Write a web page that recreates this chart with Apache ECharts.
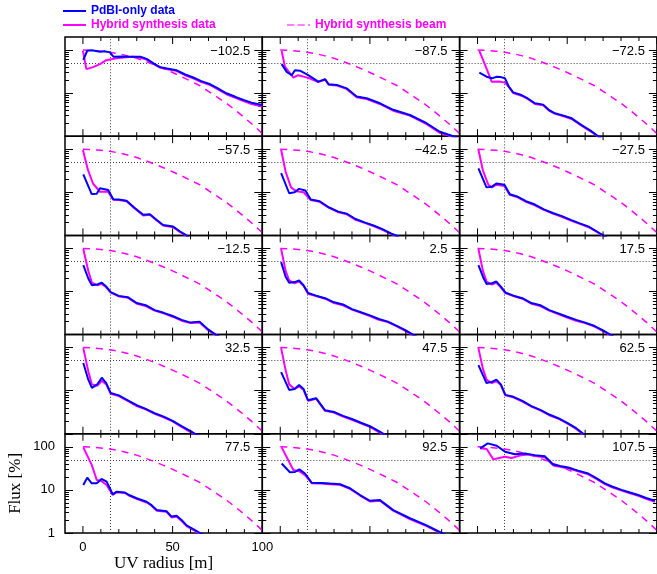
<!DOCTYPE html>
<html><head><meta charset="utf-8">
<script src="https://cdn.jsdelivr.net/npm/echarts@6/dist/echarts.min.js"></script>
<style>html,body{margin:0;padding:0;background:#fff}#c{width:657px;height:574px}</style>
</head><body><div id="c"></div>
<script>
// ---------- data ----------
const panelLabels = ['\u2212102.5','\u221287.5','\u221272.5','\u221257.5','\u221242.5','\u221227.5','\u221212.5','2.5','17.5','32.5','47.5','62.5','77.5','92.5','107.5'];
const beamUV   = [0,5,10,15,20,25,30,35,40,45,50,55,60,65,70,75,80,85,90,95,100];
const beamFlux = [100,98,94,89,82,73,64,54,45,37,30,24,19,15,11,8,5.8,4.0,2.7,1.8,1.15];
const xMinorTicks = [10,20,30,40,60,70,80,90];
const xMajorTicks = [0,50,100];
const yMinorTicks = [2,3,4,5,6,7,8,9,20,30,40,50,60,70,80,90];
const yMajorTicks = [1,10,100];
const refFlux = 50;
const refUV = 15;

// PdBI-only data [uv, flux] per panel
const pdbi_m102 = [[0.2,59],[2.4,96],[5,99],[9.5,91],[12,93],[15,88],[17,70],[22,71],[26,70],[32,70],[35.5,62],[40,47],[43,40],[47,37],[52,34],[57,27],[61.5,23],[66,19],[71,16],[75,13],[80,9.9],[85,8.2],[89.5,6.9],[94,6],[100,5.3]];
const pdbi_m87 = [[0.8,47],[3.6,31],[6.4,26],[8.2,34],[11,33],[15.6,26],[21.2,18.4],[25,21],[27,16],[31.6,15.5],[37,12.9],[42.6,8.3],[48.2,7.6],[55.6,5.8],[63,4.1],[72.3,3.1],[81.6,2.0],[89,1.27],[96.5,1.0],[99,0.9]];
const pdbi_m72 = [[1,30],[5,24],[8,22],[10.7,24],[13,23.5],[15.3,22],[17.5,14],[19.9,10.4],[24.5,9],[28,7.5],[32,5.8],[36.6,5.4],[40,4],[43.2,3.4],[48,3],[52.5,2.6],[58,1.8],[63,1.35],[67.3,1.0],[69,0.9]];
const pdbi_m57 = [[0.2,26],[4.9,9.1],[7.7,9.3],[9.5,12.4],[14.1,11.3],[16.9,6.9],[20,6.8],[24.3,6.4],[28.9,4.3],[33.6,3.0],[37.3,3.1],[41,2.3],[44.7,1.74],[50.3,1.6],[54,1.25],[57.7,1.0],[59,0.9]];
const pdbi_m42 = [[0.5,28],[5,9.5],[8,10],[10.5,12],[14,11],[17,6.8],[22,6.2],[27,4.5],[32,3.6],[37,3.2],[42,2.4],[47,2.0],[52,1.7],[57,1.4],[62,1.1],[66,0.95]];
const pdbi_m27 = [[0.5,36],[5,13],[8,13.5],[10.5,16],[15,15],[18,9],[22,8],[27,6.2],[32,5.2],[37,4],[42,3.3],[47,2.8],[52,2.3],[57,1.9],[62,1.6],[67,1.2],[70,1.0],[72,0.9]];
const pdbi_m12 = [[0.2,41],[3,20],[5,14],[8,14.5],[10.5,16],[13,13],[15.5,9.7],[20,7.9],[25,7.4],[30,5.4],[35,4.8],[40,3.7],[45,3.2],[50,2.7],[55,2.2],[60,1.9],[65,2.0],[70,1.3],[74,1.0],[76,0.9]];
const pdbi_p02 = [[0.5,48],[3,22],[5,16],[8,16.5],[10.5,18],[13,14],[15.5,9.2],[20,8],[25,7],[30,5.6],[35,5],[40,3.9],[45,3.3],[50,2.8],[55,2.3],[60,2],[65,1.6],[70,1.25],[74,1.0],[76,0.9]];
const pdbi_p17 = [[0.5,41],[3,22],[5,15],[8,15.5],[10.5,17],[13,13],[15.5,9.5],[20,8],[25,7],[30,5.4],[35,4.8],[40,3.7],[45,3.1],[50,2.6],[55,2.2],[60,1.9],[65,1.6],[70,1.25],[74,1.0],[76,0.9]];
const pdbi_p32 = [[0.2,44],[3,18],[5,11.6],[8,14],[10.5,20],[13,15],[15.5,8.8],[20,7.8],[25,6],[30,4.6],[35,3.8],[40,3],[45,2.5],[50,2],[55,1.5],[60,1.15],[63,0.97],[65,0.9]];
const pdbi_p47 = [[0.5,27],[5,10.4],[8,11],[10.5,13.5],[13,11],[15.5,6],[20,6.7],[25,3.5],[30,3.2],[35,2.6],[40,2.2],[45,1.8],[50,1.5],[55,1.15],[58,0.97],[60,0.9]];
const pdbi_p62 = [[0.5,39],[5,15],[8,16],[10.5,18],[13,14],[15.5,8],[20,7.2],[25,5.8],[30,4.4],[35,3.6],[40,2.8],[45,2.3],[50,1.8],[55,1.35],[59,1.0],[61,0.9]];
const pdbi_p77 = [[0.2,13],[2.4,19.2],[4.9,14.2],[7.7,14.2],[10.4,17.9],[13.2,15.5],[16.6,7.9],[18.8,9.1],[23.4,8.7],[26,7.5],[29.9,6.4],[35.5,5.3],[38,4.5],[41.1,3.4],[46.6,3.2],[49.4,2.4],[52.2,2.5],[55,2],[57.8,1.5],[62,1.2],[65.3,1.0],[67,0.9]];
const pdbi_p92 = [[0.8,41],[5.4,25.6],[8.2,26],[10.6,30],[13.8,24],[17.5,14.7],[23,14.5],[27.7,14],[33.3,13.5],[38.9,10.9],[44.5,7.6],[50,5.6],[55.6,5.8],[63,3.4],[72.3,2.2],[81.6,1.5],[90,1.0],[92,0.9]];
const pdbi_p107 = [[1.4,92],[5.7,120],[10.7,106],[15.3,77],[20.9,67],[26.4,70],[32,64],[37.5,60],[42.2,39],[46,36],[50.6,33],[56,28],[61.7,24],[66,19],[71,14.2],[75,12],[80.3,10],[85,8.7],[89.6,7.6],[94,6.5],[98.9,5.6]];

// Hybrid synthesis data [uv, flux] per panel
const hyb_m102 = [[0,95],[1.9,36],[5.6,40],[9.5,47],[13,58],[18.7,64],[24,68],[28,70],[32,66],[35.5,60],[40,46],[43,39],[47,35.5],[52,33],[57,26],[61.5,22],[66,18],[71,15.3],[75,12.4],[80,9.4],[85,7.8],[89.5,6.5],[94,5.6],[100,4.9]];
const hyb_m87 = [[0.8,95],[2.6,41],[7.3,23],[10,26],[15.6,22.5],[21.2,18],[25,20.5],[27,15.6],[31.6,15],[37,12.5],[42.6,8],[48.2,7.3],[55.6,5.6],[63,3.9],[72.3,3],[81.6,1.9],[89,1.2],[96.5,0.95],[99,0.85]];
const hyb_m72 = [[1,95],[4.2,45],[7.9,18.4],[12,18.5],[15.3,17.5],[18,13],[19.9,10],[24.5,8.7],[28,7.3],[32,5.6],[36.6,5.2],[40,3.9],[43.2,3.3],[48,2.9],[52.5,2.5],[58,1.75],[63,1.3],[67.3,0.97],[69,0.88]];
const hyb_m57 = [[0,96],[2.8,33],[5.6,16],[9.5,10.3],[14,10.3],[16.9,6.7],[20,6.6],[24.3,6.2],[28.9,4.2],[33.6,2.9],[37.3,3.0],[41,2.25],[44.7,1.7],[50.3,1.55],[54,1.2],[57.7,0.97],[59,0.88]];
const hyb_m42 = [[0.5,97],[3,30],[6,13],[9,10.5],[13,10],[17,6.6],[22,6.0],[27,4.4],[32,3.5],[37,3.1],[42,2.3],[47,1.95],[52,1.65],[57,1.35],[62,1.07],[66,0.92]];
const hyb_m27 = [[0.5,97],[3,32],[6,15],[8,13],[10.5,15],[15,14],[18,8.7],[22,7.8],[27,6.0],[32,5.0],[37,3.9],[42,3.2],[47,2.7],[52,2.2],[57,1.85],[62,1.55],[67,1.17],[70,0.97],[72,0.88]];
const hyb_m12 = [[0.2,97],[3,30],[5,16],[8,14],[10.5,15],[13,12.5],[15.5,9.4],[20,7.7],[25,7.2],[30,5.2],[35,4.6],[40,3.6],[45,3.1],[50,2.6],[55,2.1],[60,1.85],[65,1.9],[70,1.25],[74,0.97],[76,0.88]];
const hyb_p02 = [[0.5,97],[3,30],[5,18],[8,15.5],[10.5,17],[13,13.5],[15.5,8.9],[20,7.8],[25,6.8],[30,5.4],[35,4.8],[40,3.8],[45,3.2],[50,2.7],[55,2.2],[60,1.95],[65,1.55],[70,1.2],[74,0.97],[76,0.88]];
const hyb_p17 = [[0.5,97],[3,30],[5,17],[8,14.5],[10.5,16],[13,12.5],[15.5,9.2],[20,7.8],[25,6.8],[30,5.2],[35,4.6],[40,3.6],[45,3.0],[50,2.5],[55,2.1],[60,1.85],[65,1.55],[70,1.2],[74,0.97],[76,0.88]];
const hyb_p32 = [[0.2,97],[3,28],[5,14],[8,13],[10.5,17],[13,14],[15.5,8.5],[20,7.5],[25,5.8],[30,4.4],[35,3.7],[40,2.9],[45,2.4],[50,1.95],[55,1.45],[60,1.1],[63,0.95],[65,0.88]];
const hyb_p47 = [[0.5,97],[3,30],[5,14],[8,11],[10.5,12.5],[13,10.5],[15.5,5.8],[20,6.5],[25,3.4],[30,3.1],[35,2.5],[40,2.1],[45,1.75],[50,1.45],[55,1.1],[58,0.95],[60,0.88]];
const hyb_p62 = [[0.5,97],[3,32],[5,18],[8,15],[10.5,16.5],[13,13.5],[15.5,7.8],[20,7.0],[25,5.6],[30,4.3],[35,3.5],[40,2.7],[45,2.25],[50,1.75],[55,1.3],[59,0.97],[61,0.88]];
const hyb_p77 = [[0.2,97],[4.9,38],[7.7,17],[10.4,16],[13.2,13],[16.6,7.6],[18.8,8.8],[23.4,8.5],[26,7.3],[29.9,6.2],[35.5,5.1],[38,4.4],[41.1,3.3],[46.6,3.1],[49.4,2.3],[52.2,2.4],[55,1.9],[57.8,1.45],[62,1.15],[65.3,0.97],[67,0.88]];
const hyb_p92 = [[0.8,97],[7.3,29],[10.6,27],[13.8,22],[16.6,16],[17.5,14.3],[23,14.1],[27.7,13.6],[33.3,13.1],[38.9,10.6],[44.5,7.4],[50,5.4],[55.6,5.6],[63,3.3],[72.3,2.1],[81.6,1.45],[90,0.97],[92,0.88]];
const hyb_p107 = [[1.4,92],[5.1,89],[8.8,51],[12,55],[15.3,59],[19,55],[24.5,64],[28,66],[32,61],[37.5,57],[42.2,37],[46,34.5],[50.6,31.5],[56,27],[61.7,23],[66,18.2],[71,13.6],[75,11.5],[80.3,9.6],[85,8.3],[89.6,7.3],[94,6.2],[98.9,5.3]];

const pdbiSets = [pdbi_m102,pdbi_m87,pdbi_m72,pdbi_m57,pdbi_m42,pdbi_m27,pdbi_m12,pdbi_p02,pdbi_p17,pdbi_p32,pdbi_p47,pdbi_p62,pdbi_p77,pdbi_p92,pdbi_p107];
const hybSets = [hyb_m102,hyb_m87,hyb_m72,hyb_m57,hyb_m42,hyb_m27,hyb_m12,hyb_p02,hyb_p17,hyb_p32,hyb_p47,hyb_p62,hyb_p77,hyb_p92,hyb_p107];

// ---------- layout ----------
const L0 = 65, T0 = 37, PW = 197.3, PH = 99.2;
const Y_MIN = 1, Y_MAX = 200;
const BLUE = '#0000ff', MAG = '#ff00ff';
const beamData = beamUV.map((u, k) => [u, beamFlux[k]]);
const MINOR_LEN = 4, MAJOR_LEN = 7;
const xTickItems = xMinorTicks.map(t => [t, MINOR_LEN]).concat(xMajorTicks.map(t => [t, MAJOR_LEN]));

function renderXTicks(params, api) {
  const t = api.value(0), len = api.value(1);
  const b = api.coord([t, Y_MIN]);
  const tp = api.coord([t, Y_MAX]);
  const st = {stroke: '#000', lineWidth: 1};
  return {type: 'group', children: [
    {type: 'line', shape: {x1: b[0], y1: b[1], x2: b[0], y2: b[1] - len}, style: st},
    {type: 'line', shape: {x1: tp[0], y1: tp[1], x2: tp[0], y2: tp[1] + len}, style: st}
  ]};
}

const grids = [], xAxes = [], yAxes = [], series = [], titles = [];
const noLine = {show: false, onZero: false};
for (let i = 0; i < 15; i++) {
  const r = Math.floor(i / 3), c = i % 3;
  const left = L0 + c * PW, top = T0 + r * PH;
  grids.push({left: left, top: top, width: PW, height: PH, show: true,
    borderColor: '#000', borderWidth: 1.5, backgroundColor: 'transparent'});
  const lab = (r === 4 && c === 0);
  const xi = xAxes.length;
  xAxes.push({gridIndex: i, type: 'value', min: -10, max: 100, position: 'bottom',
    splitLine: {show: false}, axisLine: noLine, axisTick: {show: false},
    axisLabel: {show: lab, customValues: xMajorTicks, margin: 8, fontSize: 13, color: '#000', fontFamily: 'Liberation Sans'},
    name: lab ? 'UV radius [m]' : '', nameLocation: 'middle', nameGap: 20,
    nameTextStyle: {fontSize: 17, fontFamily: 'Liberation Serif', color: '#000'}});
  const yb = {gridIndex: i, type: 'log', logBase: 10, min: Y_MIN, max: Y_MAX,
    splitLine: {show: false}, axisLine: noLine};
  const yi = yAxes.length;
  yAxes.push(Object.assign({}, yb, {position: 'left',
    axisTick: {show: true, inside: true, length: MINOR_LEN, customValues: yMinorTicks, lineStyle: {color: '#000', width: 1}},
    axisLabel: {show: lab, customValues: yMajorTicks, margin: 10, fontSize: 13, color: '#000', fontFamily: 'Liberation Sans'},
    name: lab ? 'Flux [%]' : '', nameLocation: 'middle', nameGap: 41,
    nameTextStyle: {fontSize: 17, fontFamily: 'Liberation Serif', color: '#000'}}));
  yAxes.push(Object.assign({}, yb, {position: 'right',
    axisTick: {show: true, inside: true, length: MINOR_LEN, customValues: yMinorTicks, lineStyle: {color: '#000', width: 1}},
    axisLabel: {show: false}}));
  yAxes.push(Object.assign({}, yb, {position: 'left',
    axisTick: {show: true, inside: true, length: MAJOR_LEN + 1, customValues: yMajorTicks, lineStyle: {color: '#000', width: 1}},
    axisLabel: {show: false}}));
  yAxes.push(Object.assign({}, yb, {position: 'right',
    axisTick: {show: true, inside: true, length: MAJOR_LEN + 1, customValues: yMajorTicks, lineStyle: {color: '#000', width: 1}},
    axisLabel: {show: false}}));

  titles.push({text: panelLabels[i], right: 657 - (left + PW) + 12, top: top + 7.5, padding: 0,
    textStyle: {fontSize: 13, fontWeight: 'normal', fontFamily: 'Liberation Sans', color: '#000'}});

  series.push({type: 'custom', xAxisIndex: xi, yAxisIndex: yi, data: xTickItems,
    renderItem: renderXTicks, silent: true, clip: false, z: 5,
    encode: {x: 0}});
  series.push({name: 'Hybrid synthesis beam', type: 'line', xAxisIndex: xi, yAxisIndex: yi,
    data: beamData, symbol: 'none', showSymbol: false, smooth: false, z: 2,
    lineStyle: {color: MAG, width: 1.5, type: [7, 6]}, itemStyle: {color: MAG},
    markLine: {silent: true, symbol: 'none', label: {show: false}, z: 1,
      lineStyle: {type: [1, 2], color: '#444', width: 1},
      emphasis: {disabled: true},
      data: [{yAxis: refFlux}, {xAxis: refUV}]}});
  series.push({name: 'Hybrid synthesis data', type: 'line', xAxisIndex: xi, yAxisIndex: yi,
    data: hybSets[i], symbol: 'none', showSymbol: false, z: 3,
    lineStyle: {color: MAG, width: 2}, itemStyle: {color: MAG}});
  series.push({name: 'PdBI-only data', type: 'line', xAxisIndex: xi, yAxisIndex: yi,
    data: pdbiSets[i], symbol: 'none', showSymbol: false, z: 4,
    lineStyle: {color: BLUE, width: 2}, itemStyle: {color: BLUE}});
}

const legendBase = {orient: 'horizontal', padding: 0, itemWidth: 23, itemHeight: 2, itemGap: 5,
  selectedMode: false};
const legendText = {fontWeight: 'bold', fontSize: 12, fontFamily: 'Liberation Sans'};
const solidIcon = 'rect';
const dashIcon = 'path://M0,0h7v1h-7z M10,0h7v1h-7z M20,0h2v1h-2z';
const option = {
  animation: false,
  backgroundColor: '#fff',
  title: titles,
  legend: [
    Object.assign({}, legendBase, {data: [{name: 'PdBI-only data', icon: solidIcon}], left: 63, top: 5,
      textStyle: Object.assign({color: BLUE}, legendText)}),
    Object.assign({}, legendBase, {data: [{name: 'Hybrid synthesis data', icon: solidIcon}], left: 63, top: 19,
      textStyle: Object.assign({color: MAG}, legendText)}),
    Object.assign({}, legendBase, {data: [{name: 'Hybrid synthesis beam', icon: dashIcon}], left: 287, top: 19,
      textStyle: Object.assign({color: MAG}, legendText)})
  ],
  grid: grids, xAxis: xAxes, yAxis: yAxes, series: series
};
const chart = echarts.init(document.getElementById('c'));
chart.setOption(option);
</script></body></html>
